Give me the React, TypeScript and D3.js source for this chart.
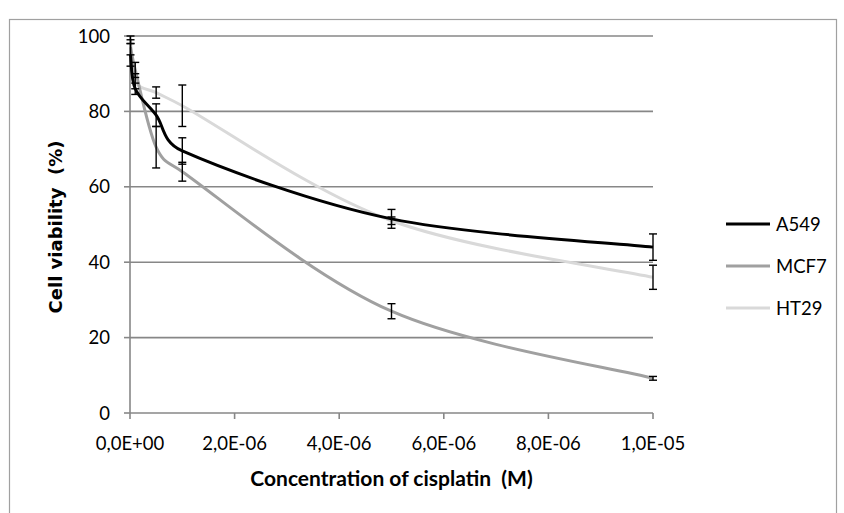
import React from "react";
import * as d3 from "d3";

const concentrations = [1e-8, 1e-7, 5e-7, 1e-6, 5e-6, 1e-5];
const seriesNames = ["A549", "MCF7", "HT29"];
const a549 = [95, 86, 79, 69.5, 51.5, 44];
const a549Err = [3, 1.5, 3, 3.5, 2.5, 3.5];
const mcf7 = [97, 91, 70.5, 64, 27, 9.2];
const mcf7Err = [2, 2, 5.5, 2.5, 2, 0.5];
const ht29 = [99, 88, 85, 81.5, 51, 36];
const ht29Err = [1, 2, 1.5, 5.5, 1, 3.2];
const xTicks = [0, 2e-6, 4e-6, 6e-6, 8e-6, 1e-5];
const xTickLabels = ["0,0E+00", "2,0E-06", "4,0E-06", "6,0E-06", "8,0E-06", "1,0E-05"];
const yTicks = [0, 20, 40, 60, 80, 100];
const colors = ["#000000", "#a0a0a0", "#d9d9d9"];

// Excel-style smoothed line (Bezier with 1/6 tangents, clamped to half segment)
function smoothPath(pts: [number, number][]): string {
  const p = d3.path();
  const dist = (a: [number, number], b: [number, number]) => Math.hypot(b[0] - a[0], b[1] - a[1]);
  p.moveTo(pts[0][0], pts[0][1]);
  for (let i = 0; i < pts.length - 1; i++) {
    const p0 = pts[i - 1] ?? pts[i];
    const p1 = pts[i];
    const p2 = pts[i + 1];
    const p3 = pts[i + 2] ?? pts[i + 1];
    const d02 = dist(p0, p2);
    const d12 = dist(p1, p2);
    const d13 = dist(p1, p3);
    let f0 = 1 / 6, f1 = 1 / 6;
    if (d02 / 6 >= d12 / 2 && d02 > 0) f0 = d12 / (2 * d02);
    if (d13 / 6 >= d12 / 2 && d13 > 0) f1 = d12 / (2 * d13);
    const b1: [number, number] = [p1[0] + f0 * (p2[0] - p0[0]), p1[1] + f0 * (p2[1] - p0[1])];
    const b2: [number, number] = [p2[0] - f1 * (p3[0] - p1[0]), p2[1] - f1 * (p3[1] - p1[1])];
    p.bezierCurveTo(b1[0], b1[1], b2[0], b2[1], p2[0], p2[1]);
  }
  return p.toString();
}

export default function App() {
  const W = 844, H = 513;
  const left = 130, right = 653, top = 36, bottom = 413;
  const x = d3.scaleLinear().domain([0, 1e-5]).range([left, right]);
  const y = d3.scaleLinear().domain([0, 100]).range([bottom, top]);
  const series = [
    { name: seriesNames[0], v: a549, e: a549Err, c: colors[0] },
    { name: seriesNames[1], v: mcf7, e: mcf7Err, c: colors[1] },
    { name: seriesNames[2], v: ht29, e: ht29Err, c: colors[2] },
  ];
  const font = "Lato, 'Open Sans', sans-serif";
  return (
    <svg width={W} height={H} style={{ position: "absolute", left: 0, top: 0, background: "#fff" }}>
      <rect x={9.5} y={19.5} width={827} height={600} fill="#fff" stroke="#a0a0a0" strokeWidth={1.2} />
      {yTicks.map((t) => (
        <g key={t}>
          {t > 0 && <line x1={left} x2={right} y1={y(t)} y2={y(t)} stroke="#878787" strokeWidth={1.6} />}
          <line x1={left - 6} x2={left} y1={y(t)} y2={y(t)} stroke="#878787" strokeWidth={1.6} />
          <text x={110} y={y(t)} dy="0.36em" textAnchor="end" fontFamily={font} fontSize={18.5} fill="#000">
            {t}
          </text>
        </g>
      ))}
      <line x1={left} x2={left} y1={top} y2={bottom} stroke="#878787" strokeWidth={1.6} />
      <line x1={left} x2={right} y1={bottom} y2={bottom} stroke="#878787" strokeWidth={1.6} />
      {xTicks.map((t, i) => (
        <g key={i}>
          <line x1={x(t)} x2={x(t)} y1={bottom} y2={bottom + 6} stroke="#878787" strokeWidth={1.6} />
          <text x={x(t)} y={450} textAnchor="middle" fontFamily={font} fontSize={18.5} fill="#000">
            {xTickLabels[i]}
          </text>
        </g>
      ))}
      {[...series].reverse().map((s) => (
        <path
          key={s.name}
          d={smoothPath(s.v.map((v, i) => [x(concentrations[i]), y(v)] as [number, number]))}
          fill="none"
          stroke={s.c}
          strokeWidth={3}
        />
      ))}
      {series.map((s) =>
        s.v.map((v, i) => {
          const cx = x(concentrations[i]);
          return (
            <g key={s.name + i} stroke="#000" strokeWidth={1.4}>
              <line x1={cx} x2={cx} y1={y(v + s.e[i])} y2={y(v - s.e[i])} />
              <line x1={cx - 4} x2={cx + 4} y1={y(v + s.e[i])} y2={y(v + s.e[i])} />
              <line x1={cx - 4} x2={cx + 4} y1={y(v - s.e[i])} y2={y(v - s.e[i])} />
            </g>
          );
        })
      )}
      {series.map((s, i) => {
        const ly = 224 + i * 42;
        return (
          <g key={"lg" + s.name}>
            <line x1={726} x2={770} y1={ly} y2={ly} stroke={s.c} strokeWidth={3} />
            <text x={776} y={ly} dy="0.36em" fontFamily={font} fontSize={18.5} fill="#000">
              {s.name}
            </text>
          </g>
        );
      })}
      <text x={(left + right) / 2} y={486} textAnchor="middle" fontFamily={font} fontWeight="bold" fontSize={21} fill="#000" style={{ whiteSpace: "pre" }}>
        Concentration of cisplatin  (M)
      </text>
      <text
        transform={`translate(56, 227) rotate(-90)`}
        textAnchor="middle"
        dy="0.36em"
        fontFamily="'DejaVu Sans', Verdana, sans-serif"
        fontWeight="bold"
        fontSize={18}
        fill="#000"
        style={{ whiteSpace: "pre" }}
      >
        Cell viability  (%)
      </text>
    </svg>
  );
}
